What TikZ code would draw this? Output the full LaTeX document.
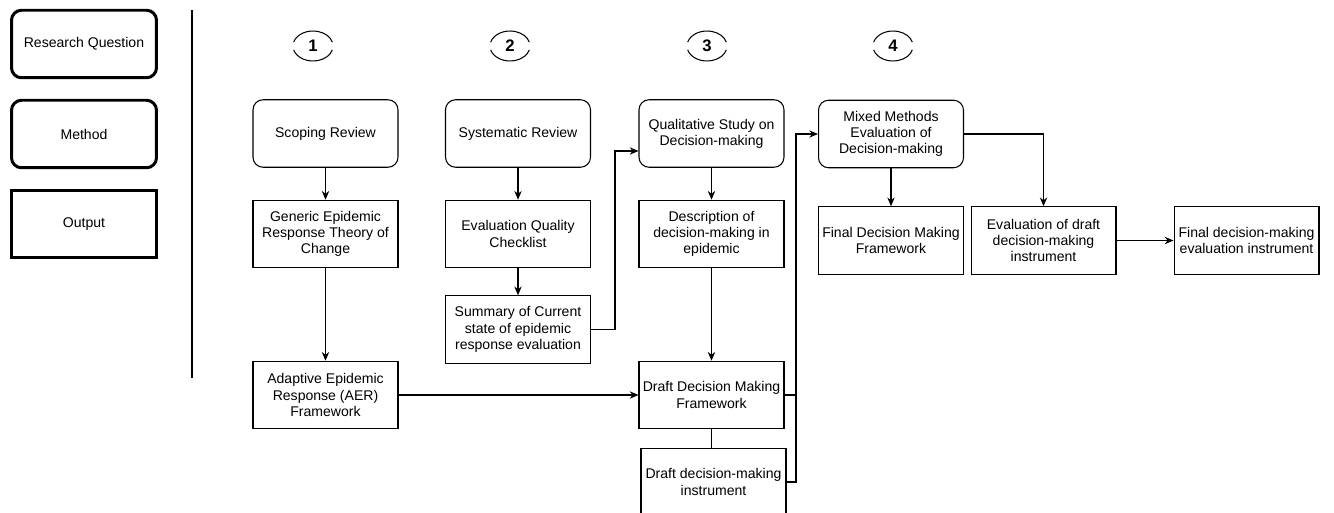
\documentclass[tikz,border=0pt]{standalone}
\usepackage{fontspec}
\setmainfont{Liberation Sans}
\usetikzlibrary{arrows.meta}

\begin{document}
\begin{tikzpicture}[x=0.02cm, y=0.02cm, font=\fontsize{8}{9.2}\selectfont, line width=0.6pt,
    >={Stealth[length=5pt, width=4.2pt]},
    meth/.style={draw, rounded corners=0.2cm, minimum width=2.9cm, minimum height=1.35cm, align=center, inner sep=1pt},
    outp/.style={draw, minimum width=2.9cm, minimum height=1.35cm, align=center, inner sep=1pt},
    keyround/.style={meth, line width=1.7pt},
    keysquare/.style={outp, line width=1.7pt},
    stepnum/.style={font=\fontsize{9.5}{11}\selectfont\bfseries, inner sep=0pt}]
  \useasboundingbox (0,0) rectangle (1334,-513);
  \clip (0,0) rectangle (1334,-513);
  % ---- legend ----
  \node[keyround]  (keyrq)   at (84,-44)  {Research Question};
  \node[keyround]  (keymeth) at (84,-134) {Method};
  \node[keysquare] (keyout)  at (84,-224) {Output};
  \draw (192,-10) -- (192,-378);
  % ---- study numbers ----
  \foreach \n/\x in {1/313, 2/510, 3/707, 4/893} {
    \node[stepnum] (num\n) at (\x,-46) {\n};
    \draw ([shift={(165:0.4cm and 0.3cm)}]num\n.center) arc[start angle=165, end angle=15, x radius=0.4cm, y radius=0.3cm];
    \draw ([shift={(195:0.4cm and 0.3cm)}]num\n.center) arc[start angle=195, end angle=345, x radius=0.4cm, y radius=0.3cm];
  }
  % ---- study 1 ----
  \node[meth] (scoping)  at (325.5,-133.5) {Scoping Review};
  \node[outp] (generic)  at (325.5,-234)   {Generic Epidemic\\Response Theory of\\Change};
  \node[outp] (adaptive) at (325.5,-395)   {Adaptive Epidemic\\Response (AER)\\Framework};
  % ---- study 2 ----
  \node[meth] (systematic) at (518,-133.5) {Systematic Review};
  \node[outp] (checklist)  at (518,-234)   {Evaluation Quality\\Checklist};
  \node[outp] (summary)    at (518,-329.5) {Summary of Current\\state of epidemic\\response evaluation};
  % ---- study 3 ----
  \node[meth] (qualitative) at (711.5,-133.5) {Qualitative Study on\\Decision-making};
  \node[outp] (description) at (711.5,-234)   {Description of\\decision-making in\\epidemic};
  \node[outp] (draftfw)     at (711.5,-395)   {Draft Decision Making\\Framework};
  \node[outp] (draftinst)   at (713.5,-482)   {Draft decision-making\\instrument};
  % ---- study 4 ----
  \node[meth] (mixed)     at (891,-134)    {Mixed Methods\\Evaluation of\\Decision-making};
  \node[outp] (finalfw)   at (891,-240.5)  {Final Decision Making\\Framework};
  \node[outp] (evaldraft) at (1043.5,-240.5) {Evaluation of draft\\decision-making\\instrument};
  \node[outp] (finalinst) at (1246.5,-240.5) {Final decision-making\\evaluation instrument};
  % ---- connectors ----
  \coordinate (sq) at (615,-151);
  \coordinate (jx) at (796,0);
  \draw[->] (scoping) -- (generic);
  \draw[->] (generic) -- (adaptive);
  \draw[->] (adaptive) -- (draftfw);
  \draw[->] (systematic) -- (checklist);
  \draw[->] (checklist) -- (summary);
  \draw[->] (summary.east) -| (sq) -- (sq -| qualitative.west);
  \draw[->] (qualitative) -- (description);
  \draw[->] (description) -- (draftfw);
  \draw (draftfw.south) -- (draftfw.south |- draftinst.north);
  \draw (draftfw.east) -- (draftfw.east -| jx);
  \draw[->] (draftinst.east) -- (draftinst.east -| jx) |- (mixed.west);
  \draw[->] (mixed.south) -- (mixed.south |- finalfw.north);
  \draw[->] (mixed.east) -| (evaldraft.north);
  \draw[->] (evaldraft) -- (finalinst);
\end{tikzpicture}
\end{document}
